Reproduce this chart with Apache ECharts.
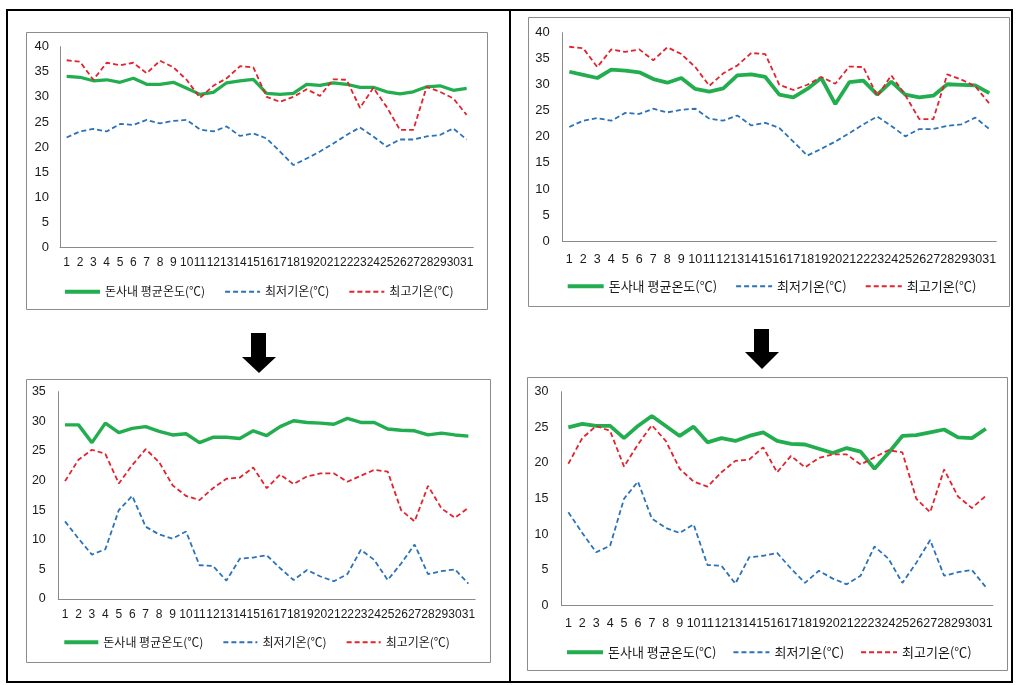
<!DOCTYPE html>
<html>
<head>
<meta charset="utf-8">
<script src="https://cdn.jsdelivr.net/npm/echarts@6/dist/echarts.min.js"></script>
<style>
html,body{margin:0;padding:0;background:#fff;}
#c{width:1020px;height:685px;}
</style>
</head>
<body>
<div id="c"></div>
<script>
// ---------- data ----------
const days = ['1','2','3','4','5','6','7','8','9','10','11','12','13','14','15','16','17','18','19','20','21','22','23','24','25','26','27','28','29','30','31'];
const seriesNames = ['돈사내 평균온도(℃)', '최저기온(℃)', '최고기온(℃)'];

// top row: outdoor min / max (same in both top charts)
const topMin = [21.9,23.1,23.6,23.1,24.6,24.4,25.4,24.7,25.2,25.4,23.5,23.1,24.1,22.2,22.7,21.7,19.1,16.4,17.7,19.1,20.7,22.4,23.9,22.1,20.1,21.5,21.5,22.1,22.4,23.7,21.5];
const topMax = [37.3,37.0,33.4,36.8,36.3,36.8,34.7,37.2,35.9,33.4,29.8,32.2,33.7,36.1,35.9,30.0,29.0,30.0,31.5,30.2,33.5,33.4,27.8,31.8,28.0,23.4,23.4,32.0,31.0,29.7,26.4];
// top-left / top-right barn average
const avgTopLeft = [34.1,33.9,33.2,33.4,32.9,33.7,32.5,32.5,32.9,31.7,30.5,30.9,32.8,33.2,33.5,30.7,30.5,30.7,32.5,32.3,32.8,32.5,31.9,31.9,31.0,30.6,31.0,32.0,32.2,31.3,31.7];
const avgTopRight = [32.5,31.9,31.3,32.9,32.7,32.4,31.1,30.4,31.3,29.2,28.7,29.3,31.8,32.0,31.5,28.1,27.6,29.2,31.3,26.3,30.5,30.8,28.1,30.6,28.1,27.6,27.9,30.1,30.0,29.9,28.4];

// bottom row: outdoor min / max (same in both bottom charts)
const bottomMin = [13.1,10.2,7.5,8.4,15.0,17.4,12.2,10.9,10.2,11.4,5.7,5.6,3.1,6.8,7.0,7.4,5.2,3.2,4.9,3.8,3.0,4.2,8.3,6.6,3.2,6.0,9.2,4.2,4.7,5.0,2.6];
const bottomMax = [19.9,23.5,25.2,24.5,19.5,22.6,25.3,23.1,19.2,17.4,16.7,18.7,20.3,20.5,22.2,18.7,21.0,19.4,20.7,21.2,21.2,19.8,20.8,21.8,21.5,15.0,13.1,19.1,15.3,13.7,15.4];
// bottom-left / bottom-right barn average
const avgBottomLeft = [29.4,29.4,26.4,29.7,28.1,28.8,29.1,28.3,27.7,27.9,26.4,27.3,27.3,27.1,28.4,27.6,29.1,30.1,29.8,29.7,29.5,30.5,29.8,29.8,28.7,28.5,28.4,27.7,28.0,27.7,27.5];
const avgBottomRight = [25.0,25.5,25.2,25.2,23.5,25.2,26.6,25.2,23.8,25.1,22.9,23.5,23.1,23.8,24.3,23.1,22.7,22.6,22.0,21.4,22.1,21.6,19.2,21.4,23.8,23.9,24.3,24.7,23.6,23.5,24.8];

// y-axis ranges per panel
const yMaxes = [40, 40, 35, 30];
const yInterval = 5;

// ---------- layout / style ----------
const GREEN = '#22ad4f', BLUE = '#2b72b8', RED = '#e2232d';
const NUMFONT = "'Liberation Sans', Arial, sans-serif";
const KFONT = "'Noto Sans CJK KR', 'Liberation Sans', sans-serif";

const panels = [
  {avg: avgTopLeft, min: topMin, max: topMax, grid:{left:60, top:46.7, width:413.3, height:200.6},
   yFont:13, xFont:12, yMargin:11, xMargin:9, greenW:3.2,
   legend:{left:63, top:285.7, font:12, gap:19, w:35}},
  {avg: avgTopRight, min: topMin, max: topMax, grid:{left:562.3, top:32.7, width:434, height:208.3},
   yFont:13, xFont:12.5, yMargin:12.5, xMargin:12, greenW:3.8,
   legend:{left:565.7, top:279.7, font:13, gap:18, w:36}},
  {avg: avgBottomLeft, min: bottomMin, max: bottomMax, grid:{left:58.3, top:391.7, width:416.8, height:207.3},
   yFont:12.5, xFont:12, yMargin:12.5, xMargin:10, greenW:3.4,
   legend:{left:62.3, top:636.3, font:12, gap:19, w:34}},
  {avg: avgBottomRight, min: bottomMin, max: bottomMax, grid:{left:561.4, top:391.7, width:431.4, height:214},
   yFont:12.5, xFont:12.5, yMargin:13, xMargin:11, greenW:3.8,
   legend:{left:565, top:645.7, font:13, gap:16, w:36}}
];

const grids = [], xAxes = [], yAxes = [], series = [], legends = [];
panels.forEach((p, i) => {
  grids.push(Object.assign({containLabel:false}, p.grid));
  xAxes.push({
    type:'category', gridIndex:i, data:days, boundaryGap:true,
    axisTick:{show:false},
    axisLine:{show:true, lineStyle:{color:'#8a8a8a', width:1}},
    axisLabel:{interval:0, color:'#1a1a1a', fontSize:p.xFont, fontFamily:NUMFONT, margin:p.xMargin}
  });
  yAxes.push({
    type:'value', gridIndex:i, min:0, max:yMaxes[i], interval:yInterval,
    axisTick:{show:false}, splitLine:{show:false},
    axisLine:{show:true, lineStyle:{color:'#8a8a8a', width:1}},
    axisLabel:{color:'#1a1a1a', fontSize:p.yFont, fontFamily:NUMFONT, margin:p.yMargin}
  });
  series.push({
    name:seriesNames[0], type:'line', xAxisIndex:i, yAxisIndex:i, data:p.avg,
    symbol:'none', lineStyle:{color:GREEN, width:p.greenW}, itemStyle:{color:GREEN}
  });
  series.push({
    name:seriesNames[1], type:'line', xAxisIndex:i, yAxisIndex:i, data:p.min,
    symbol:'none', lineStyle:{color:BLUE, width:1.8, type:[5,3]}, itemStyle:{color:BLUE}
  });
  series.push({
    name:seriesNames[2], type:'line', xAxisIndex:i, yAxisIndex:i, data:p.max,
    symbol:'none', lineStyle:{color:RED, width:1.8, type:[5,3]}, itemStyle:{color:RED}
  });
  legends.push({
    data:[
      {name:seriesNames[0], lineStyle:{color:GREEN, width:4, type:'solid'}},
      {name:seriesNames[1], lineStyle:{color:BLUE, width:2, type:[5,3]}},
      {name:seriesNames[2], lineStyle:{color:RED, width:2, type:[5,3]}}
    ],
    left:p.legend.left, top:p.legend.top, orient:'horizontal', padding:0,
    itemWidth:p.legend.w, itemHeight:14, itemGap:p.legend.gap, selectedMode:false,
    itemStyle:{opacity:0},
    textStyle:{fontSize:p.legend.font, color:'#1a1a1a', fontFamily:KFONT}
  });
});

// frames and arrows
const frameGray = '#8c8c8c';
const graphic = [
  {type:'rect', shape:{x:7, y:10, width:1005, height:672}, style:{fill:null, stroke:'#000', lineWidth:2}, silent:true},
  {type:'line', shape:{x1:510, y1:10, x2:510, y2:682}, style:{stroke:'#000', lineWidth:2}, silent:true},
  {type:'rect', shape:{x:26.5, y:32.5, width:461, height:277}, style:{fill:null, stroke:frameGray, lineWidth:1}, silent:true},
  {type:'rect', shape:{x:528.5, y:17.5, width:481, height:289}, style:{fill:null, stroke:frameGray, lineWidth:1}, silent:true},
  {type:'rect', shape:{x:26.5, y:379.5, width:464, height:283}, style:{fill:null, stroke:frameGray, lineWidth:1}, silent:true},
  {type:'rect', shape:{x:527.5, y:377.5, width:480, height:293}, style:{fill:null, stroke:frameGray, lineWidth:1}, silent:true},
  {type:'polygon', shape:{points:[[251,333],[266,333],[266,357],[276,357],[259,373],[242,357],[251,357]]}, style:{fill:'#000'}, silent:true},
  {type:'polygon', shape:{points:[[754,329],[769,329],[769,352],[779,352],[762,369],[745,352],[754,352]]}, style:{fill:'#000'}, silent:true}
];

const chart = echarts.init(document.getElementById('c'), null, {renderer:'canvas'});
chart.setOption({
  animation:false,
  backgroundColor:'#fff',
  grid:grids, xAxis:xAxes, yAxis:yAxes, series:series, legend:legends, graphic:graphic
});
</script>
</body>
</html>
